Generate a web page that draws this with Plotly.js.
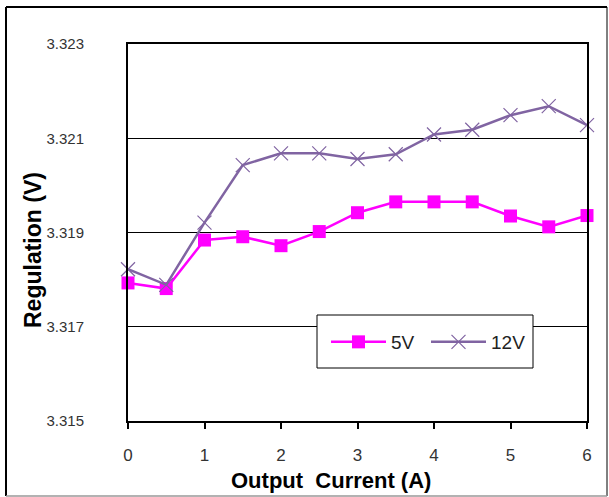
<!DOCTYPE html>
<html>
<head>
<meta charset="utf-8">
<script src="https://cdn.plot.ly/plotly-3.0.1.min.js"></script>
<style>html,body{margin:0;padding:0;background:#fff;}#chart{width:609px;height:497px;}</style>
</head>
<body>
<div id="chart"></div>
<script>
const current = [0, 0.5, 1, 1.5, 2, 2.5, 3, 3.5, 4, 4.5, 5, 5.5, 6];
const reg5V  = [3.31793, 3.31781, 3.31884, 3.31891, 3.31872, 3.31902, 3.31942, 3.31965, 3.31965, 3.31965, 3.31935, 3.31912, 3.31936];
const reg12V = [3.31822, 3.31789, 3.31921, 3.32043, 3.32068, 3.32068, 3.32056, 3.32066, 3.32108, 3.32118, 3.32149, 3.32168, 3.32128];
const xTicks = [0, 1, 2, 3, 4, 5, 6];
const yTicks = [3.315, 3.317, 3.319, 3.321, 3.323];
const yTickText = ['3.315', '3.317', '3.319', '3.321', '3.323'];
const seriesNames = ['5V', '12V'];

// plot area in pixels
const L = 128, R = 587, T = 44, B = 421, W = 609, H = 497;
const px = x => (x - L) / (R - L);
const py = y => (B - y) / (B - T);

const traces = [
  {x: current, y: reg5V, name: seriesNames[0], type: 'scatter', mode: 'lines+markers',
   line: {color: '#FF00FF', width: 2.5},
   marker: {symbol: 'square', size: 13, color: '#FF00FF'}, cliponaxis: false},
  {x: current, y: reg12V, name: seriesNames[1], type: 'scatter', mode: 'lines+markers',
   line: {color: '#8064A2', width: 2.5},
   marker: {symbol: 'x-thin-open', size: 14, line: {color: '#A28FCB', width: 1.2}}, cliponaxis: false}
];

const layout = {
  width: W, height: H,
  margin: {l: L, r: W - R, t: T, b: H - B, pad: 0, autoexpand: false},
  paper_bgcolor: '#fff', plot_bgcolor: '#fff',
  font: {family: 'Liberation Sans, Arial, sans-serif', color: '#333'},
  showlegend: true,
  legend: {orientation: 'h', x: px(326), y: py(342), xanchor: 'left', yanchor: 'middle',
           bgcolor: 'rgba(0,0,0,0)', borderwidth: 0, itemwidth: 55, entrywidth: 30,
           font: {size: 19, color: '#222'}},
  xaxis: {range: [0, 6], tickvals: xTicks, ticktext: xTicks.map(String), automargin: false,
          showgrid: false, zeroline: false, showline: true, linecolor: '#000', linewidth: 2,
          mirror: true, ticks: 'outside', ticklen: 6, tickwidth: 2, tickcolor: '#000',
          ticklabelstandoff: 12, tickfont: {size: 17, color: '#333'}},
  yaxis: {range: [3.315, 3.323], tickvals: yTicks, ticktext: yTickText, automargin: false,
          showgrid: true, gridcolor: '#000', gridwidth: 1, zeroline: false,
          showline: true, linecolor: '#000', linewidth: 2, mirror: true, ticks: '',
          ticklabelstandoff: 39, tickfont: {size: 15, color: '#333'}},
  annotations: [
    {text: '<b>Output  Current (A)</b>', xref: 'paper', yref: 'paper', x: px(331), y: py(480),
     xanchor: 'center', yanchor: 'middle', showarrow: false, font: {size: 22, color: '#000'}},
    {text: '<b>Regulation (V)</b>', xref: 'paper', yref: 'paper', x: px(33), y: py(250),
     xanchor: 'center', yanchor: 'middle', textangle: -90, showarrow: false, font: {size: 23, color: '#000'}}
  ],
  shapes: [
    {type: 'rect', xref: 'paper', yref: 'paper', x0: px(317), x1: px(533), y0: py(315), y1: py(368),
     fillcolor: '#fff', line: {color: '#000', width: 1}, layer: 'above'},
    {type: 'line', xref: 'paper', yref: 'paper', x0: px(6), x1: px(6), y0: py(7), y1: py(496), line: {color: '#000', width: 2}},
    {type: 'line', xref: 'paper', yref: 'paper', x0: px(6), x1: px(607), y0: py(7), y1: py(7), line: {color: '#000', width: 2}},
    {type: 'line', xref: 'paper', yref: 'paper', x0: px(607), x1: px(607), y0: py(7), y1: py(496), line: {color: '#000', width: 1}},
    {type: 'line', xref: 'paper', yref: 'paper', x0: px(6), x1: px(607), y0: py(496), y1: py(496), line: {color: '#999', width: 1.5}}
  ]
};

Plotly.newPlot('chart', traces, layout, {displayModeBar: false, staticPlot: true});
</script>
</body>
</html>
